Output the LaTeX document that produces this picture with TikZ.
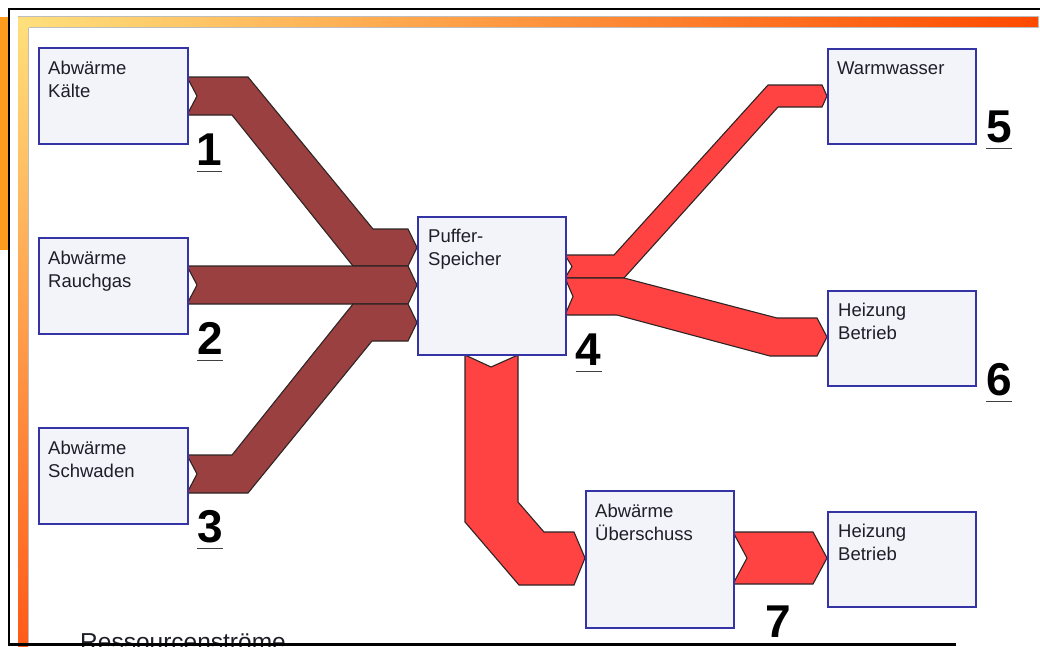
\documentclass[tikz,border=0pt]{standalone}
\usepackage{fontspec}
\setmainfont{Liberation Sans}
\usetikzlibrary{calc}
\definecolor{boxfill}{HTML}{F3F3FA}
\definecolor{boxline}{HTML}{3434A6}
\definecolor{darkband}{HTML}{9B4040}
\definecolor{lightband}{HTML}{FF4343}
\definecolor{bandline}{HTML}{2E2424}
\definecolor{txt}{HTML}{1E1E28}
\definecolor{orangeblock}{HTML}{FF9C1E}
\definecolor{barA}{HTML}{FFE07C}
\definecolor{barB}{HTML}{FF9E44}
\definecolor{barC}{HTML}{FF4A00}
\definecolor{barD}{HTML}{FF5A18}
\definecolor{barM}{HTML}{FFA848}
\definecolor{barframe}{HTML}{BDBDBD}
\begin{document}
\begin{tikzpicture}[x=1pt,y=-1pt,
  box/.style={draw=boxline, fill=boxfill, line width=1.6pt, anchor=north west, inner sep=0pt, minimum width=149pt, minimum height=96pt},
  lbl/.style={anchor=north west, inner sep=0pt, align=left, text=txt, font=\fontsize{18.5}{23}\selectfont},
  num/.style={anchor=base, inner sep=0pt, text=black, font=\fontsize{46}{46}\selectfont\bfseries},
  uline/.style={draw=black!75, line width=1.6pt},
  darkflow/.style={fill=darkband, draw=bandline, line width=1.1pt, line join=miter},
  lightflow/.style={fill=lightband, draw=bandline, line width=1.1pt, line join=miter},
  blackline/.style={draw=black, line width=2.6pt}
]
\path[use as bounding box] (0,0) rectangle (1040,646);
\clip (0,0) rectangle (1040,646);
\fill[white] (0,0) rectangle (1040,646);
% frame
\fill[orangeblock] (0,17) rectangle (8,250);
\shade[top color=barA, middle color=barM, bottom color=barD] (18,17) rectangle (28,646);
\draw[barframe, line width=1pt] (28.5,27) -- (28.5,646);
\shade[left color=barA, middle color=barB, right color=barC] (18,17) rectangle (1038,27);
\draw[barframe, line width=1pt] (18,16.5) -- (1038.5,16.5) -- (1038.5,27.5) -- (28.5,27.5);
\draw[blackline] (8,9) -- (1040,9);
\draw[blackline] (9,8) -- (9,646);

% flows
\path[darkflow] (187,77) -- (248,77) -- (373,229) -- (408,229) -- (417,247.5) -- (408,266) -- (353,266) -- (232,115) -- (187,115) -- (197,96) -- cycle;
\path[darkflow] (187,266) -- (408,266) -- (417,285) -- (408,304) -- (187,304) -- (197,285) -- cycle;
\path[darkflow] (187,455) -- (232,455) -- (353,304) -- (408,304) -- (417,322.5) -- (408,341) -- (372,341) -- (248,493) -- (187,493) -- (197,474) -- cycle;
\path[lightflow] (565,255) -- (614,255) -- (768,85) -- (822,85) -- (827,96) -- (822,107) -- (778,107) -- (624,278) -- (565,278) -- (572,266.5) -- cycle;
\path[lightflow] (565,278) -- (624,278) -- (777,318) -- (817,318) -- (827,337) -- (817,356) -- (770,356) -- (617,315) -- (565,315) -- (573,296.5) -- cycle;
\path[lightflow] (465,355) -- (491,367) -- (518,355) -- (518,502) -- (544,532) -- (574,532) -- (585,558) -- (574,585) -- (519,585) -- (465,522) -- cycle;
\path[lightflow] (733,532) -- (813,532) -- (827,558) -- (813,584) -- (733,584) -- (747,558) -- cycle;

% boxes
\node[box] (kaelte) at (38,47) {};
\node[box] (rauch) at (38,237) {};
\node[box] (schwaden) at (38,427) {};
\node[box, minimum width=148pt, minimum height=138pt] (puffer) at (417,216) {};
\node[box, minimum width=148pt, minimum height=95pt] (warm) at (827,48) {};
\node[box, minimum width=148pt, minimum height=95pt] (heizA) at (827,290) {};
\node[box, minimum width=148pt, minimum height=137pt] (ueber) at (585,490) {};
\node[box, minimum width=148pt, minimum height=95pt] (heizB) at (827,511) {};

% box texts
\node[lbl] (tk) at ($(kaelte.north west)+(10,14)$) {Abwärme\\Kälte};
\node[lbl] (tr) at ($(rauch.north west)+(10,14)$) {Abwärme\\Rauchgas};
\node[lbl] (ts) at ($(schwaden.north west)+(10,14)$) {Abwärme\\Schwaden};
\node[lbl] (tp) at ($(puffer.north west)+(11,13)$) {Puffer-\\Speicher};
\node[lbl] (tw) at ($(warm.north west)+(10,14)$) {Warmwasser};
\node[lbl] (th1) at ($(heizA.north west)+(11,13)$) {Heizung\\Betrieb};
\node[lbl] (tu) at ($(ueber.north west)+(10,14)$) {Abwärme\\Überschuss};
\node[lbl] (th2) at ($(heizB.north west)+(11,13)$) {Heizung\\Betrieb};

% numbers
\node[num] (n1) at (209.5,165) {1};
\node[num] (n2) at (210,354) {2};
\node[num] (n3) at (210,542) {3};
\node[num] (n4) at (588.5,365) {4};
\node[num] (n5) at (999,142) {5};
\node[num] (n6) at (999,395) {6};
\node[num] (n7) at (778,637) {7};
\foreach \n in {n1,n2,n3,n4,n5,n6,n7}
  \draw[uline] ([yshift=-6.5pt]\n.base west) -- ([yshift=-6.5pt]\n.base east);

% caption (cut off)
\node[anchor=base west, inner sep=0pt, text=txt, font=\fontsize{24.5}{26}\selectfont] (cap) at (80,650) {Ressourcenströme};
\draw[draw=black, line width=3pt] (8,644.5) -- (956,644.5);
\end{tikzpicture}
\end{document}
